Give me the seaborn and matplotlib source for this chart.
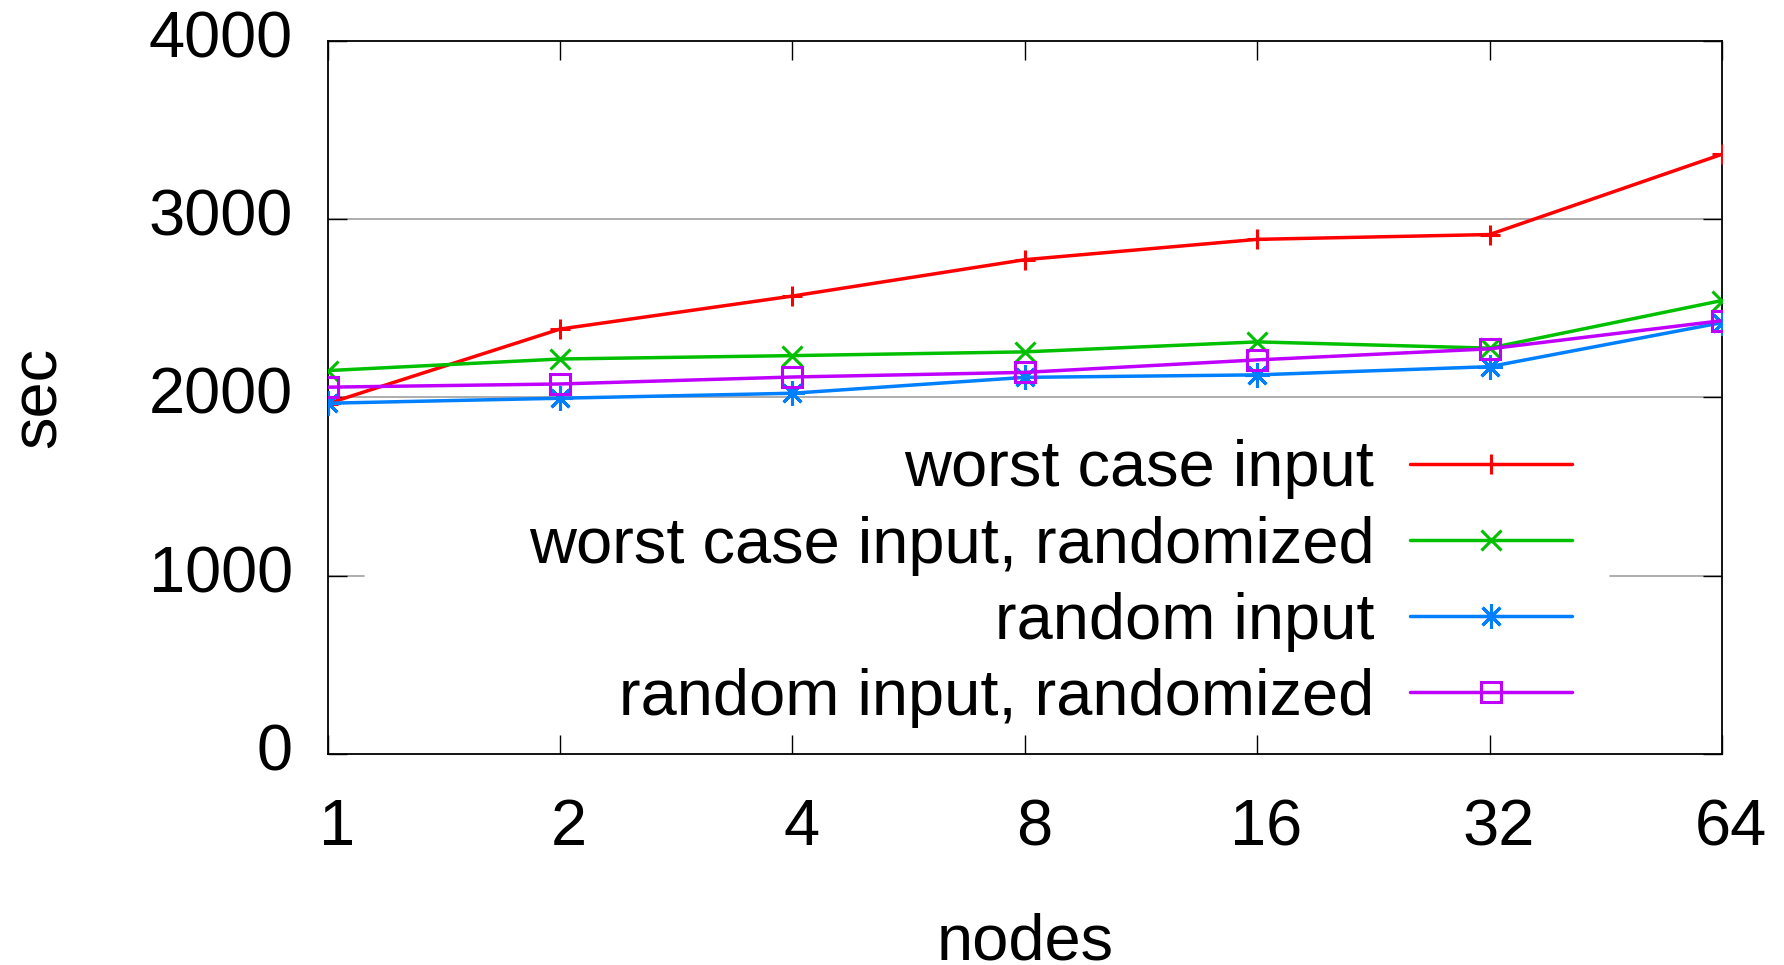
import matplotlib
matplotlib.use("Agg")
import matplotlib.pyplot as plt
import matplotlib.transforms as mtransforms
import seaborn as sns

# Node counts on the x axis
nodes = [1, 2, 4, 8, 16, 32, 64]

# Runtime in seconds for each input variant
worst_case = [1965, 2383, 2568, 2772, 2886, 2913, 3363]
worst_case_randomized = [2150, 2215, 2234, 2255, 2311, 2276, 2543]
random_input = [1967, 1995, 2023, 2112, 2126, 2172, 2419]
random_randomized = [2057, 2075, 2114, 2140, 2210, 2272, 2430]

series_names = [
    "worst case input",
    "worst case input, randomized",
    "random input",
    "random input, randomized",
]
series_values = [worst_case, worst_case_randomized, random_input, random_randomized]
series_colors = ["#ff0000", "#00c000", "#0080ff", "#c000ff"]
series_markers = ["+", "x", (8, 2, 0), "s"]
marker_sizes = [15, 14, 18, 14]

y_ticks = [0, 1000, 2000, 3000, 4000]

FS = 46.8

sns.set_theme(style="white")
plt.rcParams["font.family"] = ["Liberation Sans", "DejaVu Sans"]
plt.rcParams["text.color"] = "black"

fig = plt.figure(figsize=(17.84, 9.65), dpi=100)
ax = fig.add_axes([0.1837, 0.2187, 0.7815, 0.7391])

for name, vals, col, mk, ms in zip(series_names, series_values, series_colors,
                                   series_markers, marker_sizes):
    sns.lineplot(
        x=nodes, y=vals, ax=ax, color=col, marker=mk, markersize=ms,
        markeredgecolor=col, markerfacecolor="none", markeredgewidth=2.2,
        linewidth=2.5, label=name, zorder=3,
    )

ax.set_xscale("log", base=2)
ax.set_xlim(1, 64)
ax.set_ylim(0, 4000)
ax.set_xticks(nodes)
ax.set_xticklabels([str(n) for n in nodes])
ax.set_yticks(y_ticks)
ax.set_yticklabels([str(t) for t in y_ticks])
ax.minorticks_off()
ax.grid(False)

# horizontal grid; the 1000 line is interrupted behind the key
grid_kw = dict(color="#a0a0a0", linewidth=1.2, zorder=0.5)
ax.axhline(2000, **grid_kw)
ax.axhline(3000, **grid_kw)
ax.axhline(1000, xmin=0.0, xmax=0.026, **grid_kw)
ax.axhline(1000, xmin=0.9197, xmax=1.0, **grid_kw)

for sp in ax.spines.values():
    sp.set_color("black")
    sp.set_linewidth(1.3)

ax.tick_params(axis="both", which="major", direction="in", length=14, width=1,
               color="black", labelsize=FS, labelcolor="black")
ax.tick_params(axis="x", top=True, bottom=True, pad=32)
ax.tick_params(axis="y", left=True, right=True, pad=25)

# gnuplot-style offsets of the tick labels
xshift = mtransforms.ScaledTranslation(0.09, 0, fig.dpi_scale_trans)
for lbl in ax.get_xticklabels():
    lbl.set_transform(lbl.get_transform() + xshift)
yshift = mtransforms.ScaledTranslation(0, 0.07, fig.dpi_scale_trans)
for lbl in ax.get_yticklabels():
    lbl.set_transform(lbl.get_transform() + yshift)

ax.set_xlabel("nodes", fontsize=FS, color="black")
ax.set_ylabel("sec", fontsize=FS, color="black")
ax.xaxis.set_label_coords(0.5, -0.2229)
ax.yaxis.set_label_coords(-0.207, 0.5)
ax.yaxis.label.set_va("center")

leg = ax.legend(
    loc="upper right", bbox_to_anchor=(0.9068, 0.4685), borderaxespad=0,
    markerfirst=False, fontsize=FS, frameon=False, borderpad=0.3,
    handlelength=2.5, handletextpad=0.55, labelspacing=0.25, numpoints=1,
    labelcolor="black",
)
leg.set_zorder(5)

fig.savefig("out.png", dpi=100, facecolor="white")
